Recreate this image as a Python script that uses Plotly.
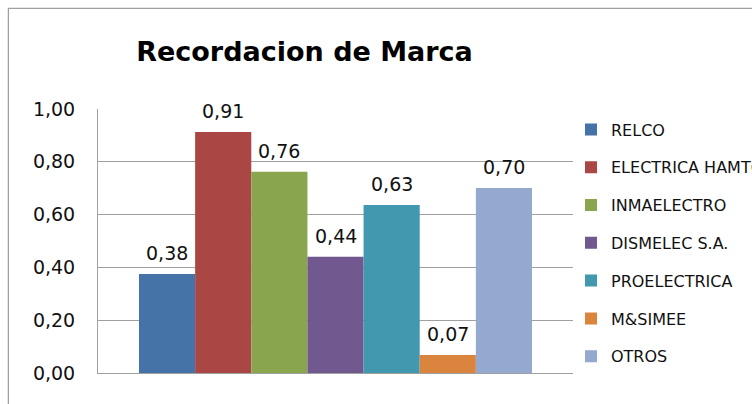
import plotly.graph_objects as go

# data
brands = ["RELCO", "ELECTRICA HAMTON", "INMAELECTRO", "DISMELEC S.A.",
          "PROELECTRICA", "M&SIMEE", "OTROS"]
values = [0.375, 0.913, 0.762, 0.44, 0.636, 0.068, 0.701]
labels = ["0,38", "0,91", "0,76", "0,44", "0,63", "0,07", "0,70"]
colors = ["#4572A7", "#AA4643", "#89A54E", "#71588F", "#4198AF", "#DB843D", "#93A9CF"]
y_ticks = [0, 0.2, 0.4, 0.6, 0.8, 1.0]
y_tick_labels = ["0,00", "0,20", "0,40", "0,60", "0,80", "1,00"]

W, H = 752, 404
left, right, top, bottom = 98, 573, 109, 373   # plot area in pixels
pw, ph = right - left, bottom - top

fig = go.Figure()
for i, name in enumerate(brands):
    fig.add_trace(go.Bar(
        x=[name], y=[values[i]],
        name=name,
        marker=dict(color=colors[i], line=dict(width=0)),
        width=1,
        legendgroup=name,
        hoverinfo="name+y",
    ))
    fig.add_annotation(
        x=name, y=values[i], text=labels[i],
        showarrow=False, yanchor="middle", yshift=21,
        font=dict(family="DejaVu Sans", size=19, color="#111111"),
    )

# outer chart border (runs off the right and bottom edges like the source)
fig.add_shape(
    type="rect", xref="paper", yref="paper",
    x0=(8.3 - left) / pw, x1=2.0,
    y0=-1.0, y1=(bottom - 8.3) / ph,
    line=dict(color="#878787", width=1),
)

fig.update_layout(
    width=W, height=H,
    margin=dict(l=left, r=W - right, t=top, b=H - bottom, autoexpand=False),
    paper_bgcolor="white", plot_bgcolor="white",
    barmode="overlay",
    title=dict(
        text="<b>Recordacion de Marca</b>",
        x=304.5 / W, xanchor="center", xref="container",
        y=1 - 52 / H, yanchor="middle", yref="container",
        font=dict(family="DejaVu Sans", size=27, color="#000000"),
    ),
    showlegend=True,
    legend=dict(
        x=(571 - left) / pw, xanchor="left", y=(bottom - 112.5) / ph, yanchor="top",
        font=dict(family="DejaVu Sans", size=16, color="#111111"),
        tracegroupgap=14, traceorder="grouped",
        bgcolor="rgba(0,0,0,0)",
    ),
    xaxis=dict(
        range=[-1.23, 7.23], showticklabels=False, showgrid=False,
        showline=True, linecolor="#A0A0A0", linewidth=1, ticks="",
        fixedrange=True,
    ),
    yaxis=dict(
        range=[0, 1], tickvals=y_ticks, ticktext=y_tick_labels,
        showgrid=True, gridcolor="#A0A0A0", gridwidth=1,
        showline=True, linecolor="#A0A0A0", linewidth=1, ticks="",
        ticklabelstandoff=18, zeroline=False,
        tickfont=dict(family="DejaVu Sans", size=19, color="#111111"),
    ),
)

fig.write_html("out.html", config={"displayModeBar": False},
               post_script="document.body.style.margin='0';")
